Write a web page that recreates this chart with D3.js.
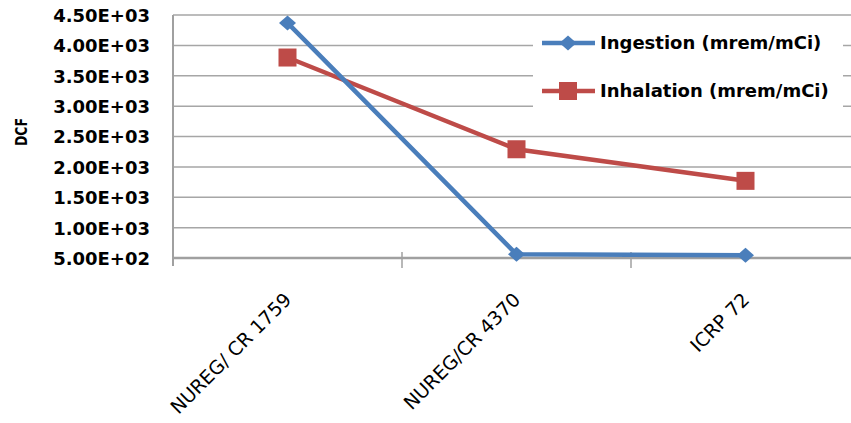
<!DOCTYPE html>
<html><head><meta charset="utf-8">
<script src="https://cdn.jsdelivr.net/npm/d3@7"></script>
<style>body{margin:0;background:#fff}svg{display:block}</style>
</head><body>
<svg id="c" width="851" height="423"></svg>
<script>
const categories = ["NUREG/ CR 1759", "NUREG/CR 4370", "ICRP 72"];
const ingestion = [4370, 560, 545];
const inhalation = [3800, 2290, 1770];
const seriesNames = ["Ingestion (mrem/mCi)", "Inhalation (mrem/mCi)"];
const yTicks = [500, 1000, 1500, 2000, 2500, 3000, 3500, 4000, 4500];
const yTickLabels = ["5.00E+02","1.00E+03","1.50E+03","2.00E+03","2.50E+03","3.00E+03","3.50E+03","4.00E+03","4.50E+03"];

(function(){
const svg = d3.select("#c");
const pL = 173, pR = 860, pT = 15, pB = 258;
const x = d3.scaleBand().domain(categories).range([pL, pR]).padding(0);
const y = d3.scaleLinear().domain([500, 4500]).range([pB, pT]);
const cx = d => x(d) + x.bandwidth() / 2;

// gridlines
svg.append("g").selectAll("line").data(yTicks.slice(1)).join("line")
  .attr("x1", pL).attr("x2", 851).attr("y1", d => y(d)).attr("y2", d => y(d))
  .attr("stroke", "#a6a6a6").attr("stroke-width", 1.5);

// y axis
const yAxis = d3.axisLeft(y).tickValues(yTicks).tickSize(0).tickPadding(23)
  .tickFormat((d, i) => yTickLabels[i]);
const gy = svg.append("g").attr("transform", `translate(${pL},0)`).call(yAxis);
gy.select(".domain").attr("stroke", "#a0a0a0").attr("stroke-width", 2)
  .attr("d", `M0,${pT}V${pB + 8}`);
gy.selectAll("text").attr("font-family", "DejaVu Sans").attr("font-weight", "bold")
  .attr("font-size", 18).attr("fill", "#000").attr("dy", "0.36em");

// x axis
const xAxis = d3.axisBottom(x).tickSize(0).tickFormat("");
const gx = svg.append("g").attr("transform", `translate(0,${pB})`).call(xAxis);
gx.select(".domain").attr("stroke", "#a0a0a0").attr("stroke-width", 2.5)
  .attr("d", `M${pL},0H851`);
gx.selectAll(".tick").remove();
const bounds = categories.map(c => x(c)).concat([pR]);
svg.append("g").selectAll("line").data(bounds.slice(1)).join("line")
  .attr("x1", d => d).attr("x2", d => d).attr("y1", pB - 6).attr("y2", pB + 10)
  .attr("stroke", "#a0a0a0").attr("stroke-width", 1.5);

// category labels
svg.append("g").selectAll("text").data(categories).join("text")
  .attr("transform", d => `translate(${cx(d) + 5},${pB + 43}) rotate(-45)`)
  .attr("text-anchor", "end")
  .attr("font-family", "DejaVu Sans").attr("font-size", 19).attr("fill", "#000")
  .text(d => d);

// y title
svg.append("text").attr("transform", "translate(27,132) rotate(-90)")
  .attr("text-anchor", "middle").attr("font-family", "DejaVu Sans").attr("font-weight", "bold")
  .attr("font-size", 16).attr("textLength", 28).attr("lengthAdjust", "spacingAndGlyphs")
  .text("DCF");

const blue = "#4a7ebb", red = "#be4b48";
const line = d3.line().x((d, i) => cx(categories[i])).y(d => y(d));

// legend box
svg.append("rect").attr("x", 533).attr("y", 24).attr("width", 310).attr("height", 88).attr("fill", "#fff");

function diamond(g, px, py) {
  g.append("path").attr("d", `M${px},${py-7.5}L${px+8.5},${py}L${px},${py+7.5}L${px-8.5},${py}Z`).attr("fill", blue);
}
function square(g, px, py) {
  g.append("rect").attr("x", px - 9).attr("y", py - 9).attr("width", 18).attr("height", 18).attr("fill", red);
}

const gs = svg.append("g");
gs.append("path").datum(inhalation).attr("d", line).attr("fill", "none").attr("stroke", red).attr("stroke-width", 4.5);
inhalation.forEach((v, i) => square(gs, cx(categories[i]), y(v)));
gs.append("path").datum(ingestion).attr("d", line).attr("fill", "none").attr("stroke", blue).attr("stroke-width", 4.5);
ingestion.forEach((v, i) => diamond(gs, cx(categories[i]), y(v)));

const lg = svg.append("g");
const rows = [43, 91];
[0, 1].forEach(i => {
  const col = i === 0 ? blue : red;
  lg.append("line").attr("x1", 542).attr("x2", 595).attr("y1", rows[i]).attr("y2", rows[i])
    .attr("stroke", col).attr("stroke-width", 4.5);
  if (i === 0) diamond(lg, 568, rows[i]); else square(lg, 568, rows[i]);
  lg.append("text").attr("x", 600).attr("y", rows[i]).attr("dy", "0.36em")
    .attr("font-family", "DejaVu Sans").attr("font-weight", "bold").attr("font-size", 18)
    .text(seriesNames[i]);
});
})();
</script>
</body></html>
